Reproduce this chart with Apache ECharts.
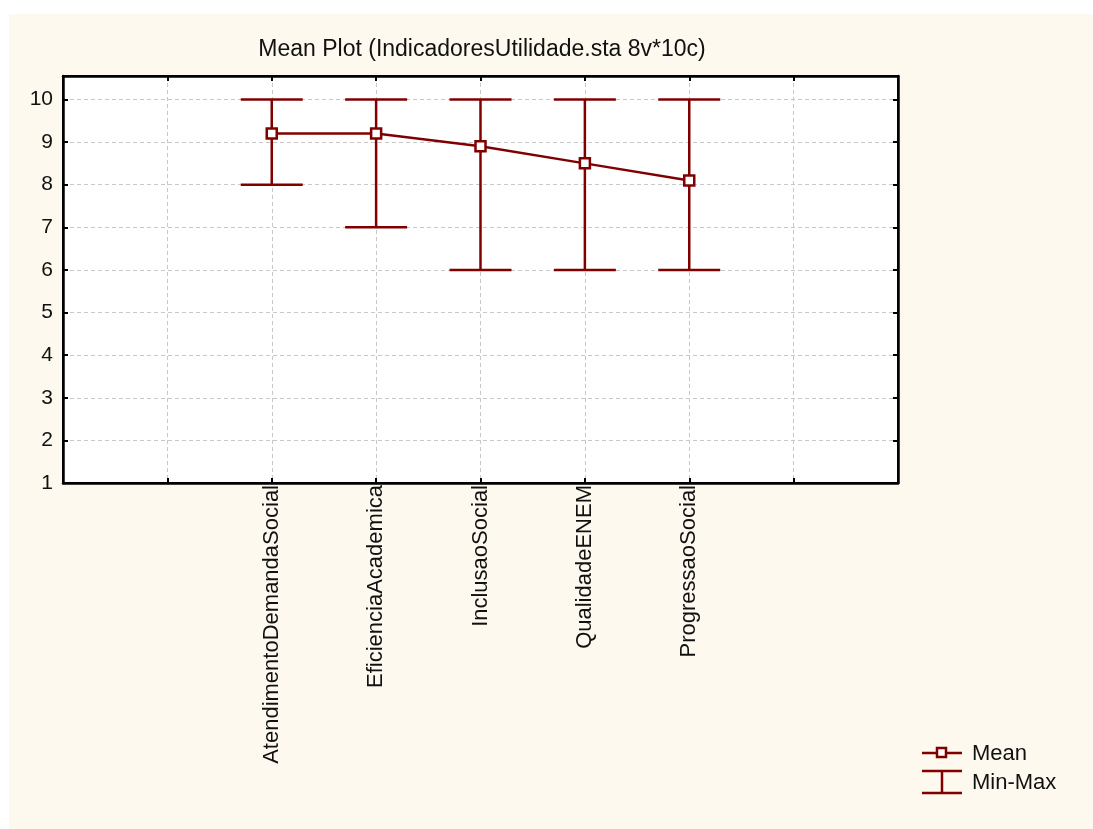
<!DOCTYPE html>
<html>
<head>
<meta charset="utf-8">
<script src="https://cdn.jsdelivr.net/npm/echarts@6/dist/echarts.min.js"></script>
<style>
  html, body { margin: 0; padding: 0; background: #fff; }
  #main { width: 1093px; height: 829px; }
</style>
</head>
<body>
<div id="main"></div>
<script>
// variables from the mean plot
var categories = ['AtendimentoDemandaSocial', 'EficienciaAcademica', 'InclusaoSocial', 'QualidadeENEM', 'ProgressaoSocial'];
var means = [9.2, 9.2, 8.9, 8.5, 8.1];
var mins = [8, 7, 6, 6, 6];
var maxs = [10, 10, 10, 10, 10];
var yTicks = [1, 2, 3, 4, 5, 6, 7, 8, 9, 10];

var pad = 2; // empty slots before the first variable
var slotCount = categories.length + 2 * pad - 1;
var dark = '#800000';
var font = "'Liberation Sans', Arial, Helvetica, sans-serif";

var myChart = echarts.init(document.getElementById('main'));

var meanData = means.map(function (m, i) { return [i + pad, m]; });
var barData = categories.map(function (c, i) { return [i + pad, mins[i], maxs[i]]; });

function slotLabel(v) {
    var i = v - pad;
    return (i >= 0 && i < categories.length) ? categories[i] : '';
}
function yLabel(v) {
    return yTicks.indexOf(v) >= 0 ? String(v) : '';
}

var gridLine = { show: true, lineStyle: { color: '#c8c8c8', type: [4, 3], width: 1 } };
var frameLine = { show: true, onZero: false, lineStyle: { color: '#000', width: 2.5 } };
var innerTick = { show: true, inside: true, length: 5, lineStyle: { color: '#000', width: 2 } };

var option = {
    animation: false,
    backgroundColor: 'transparent',
    textStyle: { fontFamily: font },
    title: {
        text: 'Mean Plot (IndicadoresUtilidade.sta 8v*10c)',
        left: 477,
        top: 33,
        textAlign: 'center',
        textStyle: { fontFamily: font, fontSize: 23, fontWeight: 'normal', color: '#111' }
    },
    grid: {
        left: 63, right: 195, top: 76, bottom: 346,
        show: true, backgroundColor: '#fff', borderColor: '#000', borderWidth: 2
    },
    xAxis: [{
        type: 'value', min: 0, max: slotCount, interval: 1,
        axisLine: frameLine,
        axisTick: innerTick,
        axisLabel: {
            rotate: 90, margin: 2, fontSize: 22, color: '#111', fontFamily: font,
            formatter: slotLabel
        },
        splitLine: gridLine
    }, {
        type: 'value', position: 'top', min: 0, max: slotCount, interval: 1,
        axisLine: frameLine,
        axisTick: innerTick,
        axisLabel: { show: false },
        splitLine: { show: false }
    }],
    yAxis: [{
        type: 'value', min: 1, max: 10.55, interval: 1,
        axisLine: frameLine,
        axisTick: innerTick,
        axisLabel: { fontSize: 21, color: '#111', margin: 10, fontFamily: font, formatter: yLabel },
        splitLine: gridLine
    }, {
        type: 'value', position: 'right', min: 1, max: 10.55, interval: 1,
        axisLine: frameLine,
        axisTick: innerTick,
        axisLabel: { show: false },
        splitLine: { show: false }
    }],
    series: [{
        name: 'Min-Max',
        type: 'custom',
        z: 3,
        data: barData,
        encode: { x: 0, y: [1, 2] },
        renderItem: function (params, api) {
            var lo = api.coord([api.value(0), api.value(1)]);
            var hi = api.coord([api.value(0), api.value(2)]);
            var half = 31;
            var st = { stroke: dark, lineWidth: 2.5 };
            return {
                type: 'group',
                children: [
                    { type: 'line', shape: { x1: lo[0], y1: lo[1], x2: hi[0], y2: hi[1] }, style: st },
                    { type: 'line', shape: { x1: lo[0] - half, y1: lo[1], x2: lo[0] + half, y2: lo[1] }, style: st },
                    { type: 'line', shape: { x1: hi[0] - half, y1: hi[1], x2: hi[0] + half, y2: hi[1] }, style: st }
                ]
            };
        }
    }, {
        name: 'Mean',
        type: 'line',
        z: 4,
        data: meanData,
        symbol: 'rect',
        symbolSize: 10,
        showAllSymbol: true,
        lineStyle: { color: dark, width: 2.5 },
        itemStyle: { color: '#fff', borderColor: dark, borderWidth: 2.5 }
    }],
    graphic: [
        { type: 'rect', z: -10, silent: true, shape: { x: 9, y: 14, width: 1084, height: 815 }, style: { fill: '#fef9ee' } },
        // legend: Mean
        { type: 'line', shape: { x1: 922, y1: 753, x2: 962, y2: 753 }, style: { stroke: dark, lineWidth: 2.5 } },
        { type: 'rect', shape: { x: 937, y: 748, width: 9, height: 9 }, style: { fill: '#fff', stroke: dark, lineWidth: 2.5 } },
        { type: 'text', x: 972, y: 754, style: { text: 'Mean', fontSize: 22, fontFamily: font, fill: '#111', verticalAlign: 'middle' } },
        // legend: Min-Max
        { type: 'line', shape: { x1: 922, y1: 771, x2: 962, y2: 771 }, style: { stroke: dark, lineWidth: 2.5 } },
        { type: 'line', shape: { x1: 922, y1: 793, x2: 962, y2: 793 }, style: { stroke: dark, lineWidth: 2.5 } },
        { type: 'line', shape: { x1: 942, y1: 771, x2: 942, y2: 793 }, style: { stroke: dark, lineWidth: 2.5 } },
        { type: 'text', x: 972, y: 783, style: { text: 'Min-Max', fontSize: 22, fontFamily: font, fill: '#111', verticalAlign: 'middle' } }
    ]
};

myChart.setOption(option);
</script>
</body>
</html>
